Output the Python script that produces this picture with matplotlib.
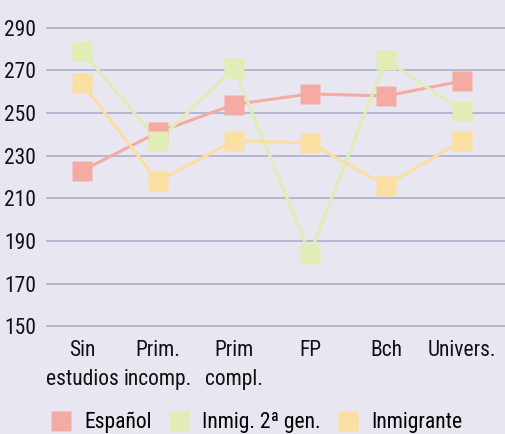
import matplotlib

matplotlib.use("Agg")
import matplotlib.pyplot as plt
from matplotlib.lines import Line2D

plt.rcParams.update({
    "font.family": ["Roboto Condensed", "Archivo Narrow", "DejaVu Sans"],
})

categories = ["Sin\nestudios", "Prim.\nincomp.", "Prim\ncompl.", "FP", "Bch", "Univers."]
espanol = [223, 241, 254, 259, 258, 265]
inmig_2gen = [279, 237, 271, 184, 275, 251]
inmigrante = [264, 218, 237, 236, 216, 237]
series_names = ["Español", "Inmig. 2ª gen.", "Inmigrante"]
yticks = [150, 170, 190, 210, 230, 250, 270, 290]

BG = "#E8E7F1"
GRID = "#B2B2CE"
COLORS = ["#F4ABA4", "#E0EDB4", "#FBDFA0"]

fig = plt.figure(figsize=(5.06, 4.34), dpi=100, facecolor=BG)
ax = fig.add_axes([0.0929, 0.2477, 0.907, 0.6885], facecolor=BG)

x = list(range(len(categories)))
all_series = [espanol, inmig_2gen, inmigrante]
# lines first, markers on top (red, then green, then yellow)
for vals, c in zip(all_series, COLORS):
    ax.plot(x, vals, color=c, lw=2.2, zorder=2, clip_on=False)
for vals, c in zip(all_series, COLORS):
    ax.plot(x, vals, ls="none", marker="s", ms=15, mfc=c, mec="none",
            zorder=3, clip_on=False)

ax.set_xlim(-0.46, 5.58)
ax.set_ylim(150, 290)
ax.set_yticks(yticks)
ax.set_xticks(x)
ax.set_xticklabels(categories, linespacing=1.45)
ax.tick_params(length=0, labelsize=15.5, colors="#111111")
ax.tick_params(axis="y", pad=8)
ax.tick_params(axis="x", pad=10)
ax.grid(axis="y", color=GRID, lw=1.3)
for gl in ax.yaxis.get_gridlines():
    gl.set_clip_on(False)
ax.set_axisbelow(True)
for s in ax.spines.values():
    s.set_visible(False)

handles = [Line2D([], [], ls="none", marker="s", ms=15, mfc=c, mec="none")
           for c in COLORS]
fig.legend(handles, series_names, loc="center left", bbox_to_anchor=(0.1, 0.026),
           ncol=3, frameon=False, fontsize=15.5, handletextpad=0.6,
           columnspacing=0.8, handlelength=0.95, borderaxespad=0, borderpad=0)

fig.savefig("out.png", dpi=100, facecolor=BG)
